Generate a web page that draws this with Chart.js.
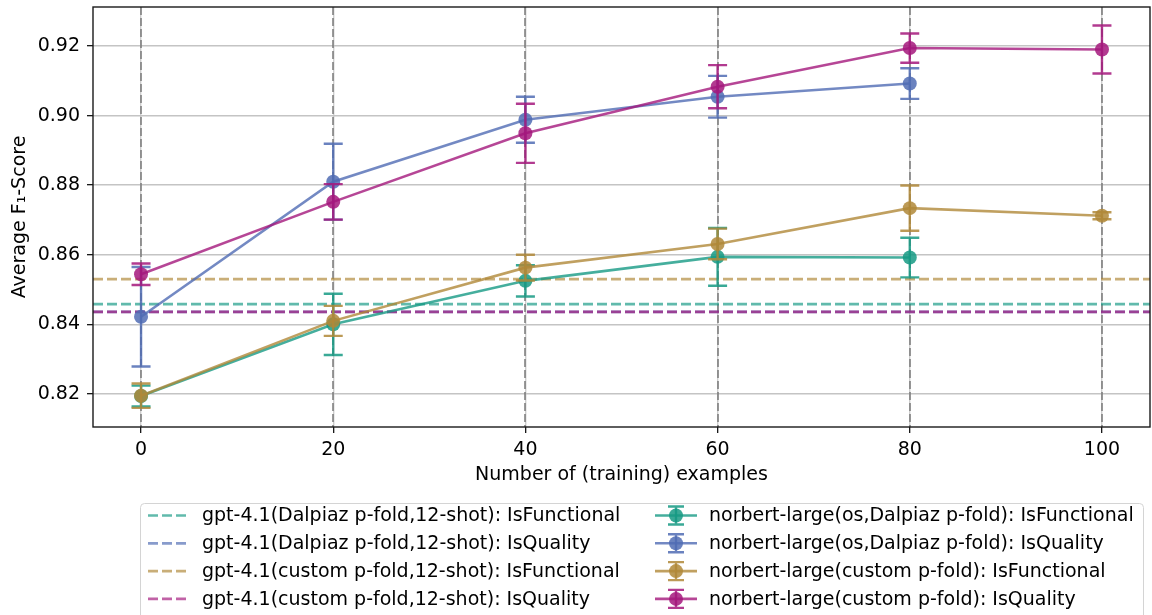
<!DOCTYPE html>
<html>
<head>
<meta charset="utf-8">
<script src="https://cdn.jsdelivr.net/npm/chart.js@4.4.1/dist/chart.umd.min.js"></script>
<style>
  html, body { margin: 0; padding: 0; background: #ffffff; }
  canvas { display: block; }
</style>
</head>
<body>
<canvas id="chart" width="1152" height="615"></canvas>
<script>
// Number of training examples on the x axis
const examples = [0, 20, 40, 60, 80, 100];
const xTickValues = [0, 20, 40, 60, 80, 100];
const yTickValues = [0.82, 0.84, 0.86, 0.88, 0.90, 0.92];

// norbert-large averages and their error (std) per number of examples
const dalpiazFunctional    = [0.8194, 0.8400, 0.8525, 0.8594, 0.8592];
const dalpiazFunctionalErr = [0.0030, 0.0088, 0.0045, 0.0083, 0.0057];
const dalpiazQuality       = [0.8422, 0.8810, 0.8988, 0.9054, 0.9092];
const dalpiazQualityErr    = [0.0143, 0.0109, 0.0066, 0.0060, 0.0044];
const customFunctional     = [0.8195, 0.8410, 0.8563, 0.8631, 0.8734, 0.8712];
const customFunctionalErr  = [0.0035, 0.0043, 0.0037, 0.0044, 0.0065, 0.0010];
const customQuality        = [0.8544, 0.8752, 0.8949, 0.9083, 0.9194, 0.9190];
const customQualityErr     = [0.0031, 0.0051, 0.0085, 0.0062, 0.0042, 0.0069];

// gpt-4.1 12-shot reference scores (horizontal lines)
const gptBaselineLabels = [
  'gpt-4.1(Dalpiaz p-fold,12-shot): IsFunctional',
  'gpt-4.1(Dalpiaz p-fold,12-shot): IsQuality',
  'gpt-4.1(custom p-fold,12-shot): IsFunctional',
  'gpt-4.1(custom p-fold,12-shot): IsQuality'
];
const gptBaselines = [0.8458, 0.8436, 0.8530, 0.8436];

const norbertLabels = [
  'norbert-large(os,Dalpiaz p-fold): IsFunctional',
  'norbert-large(os,Dalpiaz p-fold): IsQuality',
  'norbert-large(custom p-fold): IsFunctional',
  'norbert-large(custom p-fold): IsQuality'
];

const rgb = [
  [22, 154, 132],   // teal
  [80, 108, 180],   // blue
  [176, 136, 56],   // gold
  [164, 24, 124]    // magenta
];
const rgba = (c, a) => `rgba(${c[0]},${c[1]},${c[2]},${a})`;

const FONT = "'DejaVu Sans', sans-serif";
const FS = 19;
Chart.defaults.font.family = FONT;
Chart.defaults.font.size = FS;
Chart.defaults.color = '#000000';

const toPoints = (vals) => vals.map((v, i) => ({ x: examples[i], y: v }));

const datasets = [];
gptBaselines.forEach((v, i) => {
  datasets.push({
    label: gptBaselineLabels[i],
    kind: 'baseline',
    data: [{ x: -5, y: v }, { x: 105, y: v }],
    borderColor: rgba(rgb[i], 0.68),
    borderWidth: 2.7,
    borderDash: [10, 4],
    pointRadius: 0,
    order: 20 - i
  });
});
const seriesVals = [dalpiazFunctional, dalpiazQuality, customFunctional, customQuality];
const seriesErrs = [dalpiazFunctionalErr, dalpiazQualityErr, customFunctionalErr, customQualityErr];
seriesVals.forEach((vals, i) => {
  datasets.push({
    label: norbertLabels[i],
    kind: 'series',
    data: toPoints(vals),
    errors: seriesErrs[i],
    baseColor: rgb[i],
    borderColor: rgba(rgb[i], 0.8),
    borderWidth: 2.6,
    pointRadius: 7,
    pointBorderWidth: 0,
    pointBackgroundColor: rgba(rgb[i], 0.85),
    tension: 0,
    order: 4 - i
  });
});

// dashed vertical guides at every x tick
const xGuides = {
  id: 'xGuides',
  beforeDatasetsDraw(chart) {
    const { ctx, chartArea, scales } = chart;
    ctx.save();
    ctx.strokeStyle = 'rgba(120,120,120,0.75)';
    ctx.lineWidth = 2;
    ctx.setLineDash([8, 3]);
    xTickValues.forEach(v => {
      const px = Math.round(scales.x.getPixelForValue(v));
      ctx.beginPath();
      ctx.moveTo(px, chartArea.top);
      ctx.lineTo(px, chartArea.bottom);
      ctx.stroke();
    });
    ctx.restore();
  }
};

// vertical error bars with caps, drawn just before each series
const errorBars = {
  id: 'errorBars',
  beforeDatasetDraw(chart, args) {
    const ds = chart.data.datasets[args.index];
    if (!ds.errors) return;
    const { ctx, scales } = chart;
    ctx.save();
    ctx.strokeStyle = rgba(ds.baseColor, 0.85);
    ctx.lineWidth = 2.4;
    ctx.setLineDash([]);
    ds.data.forEach((p, i) => {
      const e = ds.errors[i];
      const px = scales.x.getPixelForValue(p.x);
      const yTop = scales.y.getPixelForValue(p.y + e);
      const yBot = scales.y.getPixelForValue(p.y - e);
      ctx.beginPath();
      ctx.moveTo(px, yTop); ctx.lineTo(px, yBot);
      ctx.moveTo(px - 9.5, yTop); ctx.lineTo(px + 9.5, yTop);
      ctx.moveTo(px - 9.5, yBot); ctx.lineTo(px + 9.5, yBot);
      ctx.stroke();
    });
    ctx.restore();
  }
};

// axes frame around the plotting area
const frame = {
  id: 'frame',
  afterDatasetsDraw(chart) {
    const { ctx, chartArea: a } = chart;
    ctx.save();
    ctx.strokeStyle = '#1a1a1a';
    ctx.lineWidth = 1.4;
    ctx.strokeRect(a.left, a.top, a.right - a.left, a.bottom - a.top);
    ctx.restore();
  }
};

// two-column legend below the axes
const legendBelow = {
  id: 'legendBelow',
  afterDraw(chart) {
    const { ctx } = chart;
    const all = chart.data.datasets;
    const base = all.filter(d => d.kind === 'baseline');
    const ser = all.filter(d => d.kind === 'series');
    ctx.save();
    ctx.beginPath();
    ctx.roundRect(140.5, 503.5, 1003, 140, 4);
    ctx.fillStyle = 'rgba(255,255,255,0.85)';
    ctx.fill();
    ctx.strokeStyle = '#d4d4d4';
    ctx.lineWidth = 1;
    ctx.stroke();
    ctx.font = `${FS}px ${FONT}`;
    ctx.textBaseline = 'middle';
    ctx.textAlign = 'left';
    const rowY = i => 515.5 + 27.8 * i;
    base.forEach((d, i) => {
      const y = rowY(i);
      ctx.strokeStyle = d.borderColor;
      ctx.lineWidth = 2.7;
      ctx.setLineDash([10, 4]);
      ctx.beginPath();
      ctx.moveTo(148, y); ctx.lineTo(186, y);
      ctx.stroke();
      ctx.setLineDash([]);
      ctx.fillStyle = '#000';
      ctx.fillText(d.label, 202, y + 1);
    });
    ser.forEach((d, i) => {
      const y = rowY(i);
      const cx = 676;
      ctx.strokeStyle = d.borderColor;
      ctx.lineWidth = 2.6;
      ctx.beginPath();
      ctx.moveTo(655, y); ctx.lineTo(697, y);
      ctx.stroke();
      ctx.strokeStyle = rgba(d.baseColor, 0.85);
      ctx.lineWidth = 2.4;
      ctx.beginPath();
      ctx.moveTo(cx, y - 9); ctx.lineTo(cx, y + 9);
      ctx.moveTo(cx - 8, y - 9); ctx.lineTo(cx + 8, y - 9);
      ctx.moveTo(cx - 8, y + 9); ctx.lineTo(cx + 8, y + 9);
      ctx.stroke();
      ctx.fillStyle = d.pointBackgroundColor;
      ctx.beginPath();
      ctx.arc(cx, y, 7, 0, Math.PI * 2);
      ctx.fill();
      ctx.fillStyle = '#000';
      ctx.fillText(d.label, 709, y + 1);
    });
    ctx.restore();
  }
};

new Chart(document.getElementById('chart'), {
  type: 'line',
  data: { datasets },
  options: {
    responsive: false,
    animation: false,
    devicePixelRatio: 1,
    layout: { autoPadding: false, padding: { top: 7, right: 2, left: 0, bottom: 0 } },
    plugins: { legend: { display: false }, tooltip: { enabled: false } },
    scales: {
      x: {
        type: 'linear',
        min: -5,
        max: 105,
        afterBuildTicks: s => { s.ticks = xTickValues.map(v => ({ value: v })); },
        afterFit: s => { s.height = 188; s.paddingLeft = 0; s.paddingRight = 0; },
        ticks: { padding: 6, color: '#000', font: { size: FS }, callback: v => String(v) },
        grid: { color: '#cdcdcd', lineWidth: 1.4, tickColor: '#000', tickLength: 6, tickWidth: 1.2 },
        border: { display: false },
        title: {
          display: true,
          text: 'Number of (training) examples',
          color: '#000',
          font: { size: FS },
          padding: { top: 0, bottom: 129 }
        }
      },
      y: {
        type: 'linear',
        min: 0.8105,
        max: 0.9312,
        afterBuildTicks: s => { s.ticks = yTickValues.map(v => ({ value: v })); },
        afterFit: s => { s.width = 93; s.paddingTop = 0; s.paddingBottom = 0; },
        ticks: { padding: 7, color: '#000', font: { size: FS }, callback: v => Number(v).toFixed(2) },
        grid: { color: '#c4c4c4', lineWidth: 1.4, tickColor: '#000', tickLength: 6, tickWidth: 1.2 },
        border: { display: false },
        title: {
          display: true,
          text: 'Average F\u2081-Score',
          color: '#000',
          font: { size: FS },
          padding: { top: 9, bottom: 0 }
        }
      }
    }
  },
  plugins: [xGuides, errorBars, frame, legendBelow]
});
</script>
</body>
</html>
